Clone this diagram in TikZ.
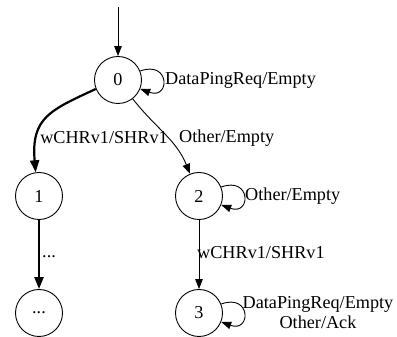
\documentclass[tikz,border=0pt]{standalone}
\usepackage{fontspec}
\setmainfont{Liberation Serif}
\usetikzlibrary{arrows.meta}
\tikzset{
  state/.style={draw, circle, minimum size=47pt, inner sep=0pt, line width=.9pt},
  trans/.style={-{Triangle[length=10pt,width=7.5pt]}, line width=.9pt},
  heavy/.style={-{Triangle[length=12pt,width=9pt]}, line width=2.2pt},
  lbl/.style={inner sep=0pt, anchor=west},
}
\begin{document}
\begin{tikzpicture}[x=1pt, y=1pt, font=\fontsize{18.2}{20}\selectfont]
	\useasboundingbox (0,0) rectangle (397,337);
	% states
	\coordinate (init) at (118,330);
	\node[state] (s0) at (118,257) {0};
	\node[state] (s1) at (39,141) {1};
	\node[state] (s2) at (199,141) {2};
	\node[state] (s3) at (199,24) {3};
	\node[state] (s4) at (39,24) {...};
	% transitions
	\draw[trans] (init) -- (s0);
	\draw[trans] (s0.22) .. controls +(20:32) and +(-20:32) .. (s0.-22);
	\draw[heavy] (s0.-158) .. controls +(-155:50) and +(95:55) .. (s1.98);
	\draw[trans] (s0) to[out=-52, in=112] (s2);
	\draw[trans] (s2.22) .. controls +(20:32) and +(-20:32) .. (s2.-22);
	\draw[heavy] (s1) -- (s4);
	\draw[trans] (s2) -- (s3);
	\draw[trans] (s3.22) .. controls +(20:32) and +(-20:32) .. (s3.-22);
	% labels
	\node[lbl] (l0) at (165,257) {DataPingReq/Empty};
	\node[inner sep=0pt] (l01) at (104,199) {wCHRv1/SHRv1};
	\node[lbl] (l02) at (179,199) {Other/Empty};
	\node[lbl] (l2) at (245,141) {Other/Empty};
	\node[lbl] (l14) at (42,80) {...};
	\node[lbl] (l23) at (197,84) {wCHRv1/SHRv1};
	\node[inner sep=0pt, align=center] (l3) at (318,24.5) {DataPingReq/Empty\\Other/Ack};
\end{tikzpicture}
\end{document}
